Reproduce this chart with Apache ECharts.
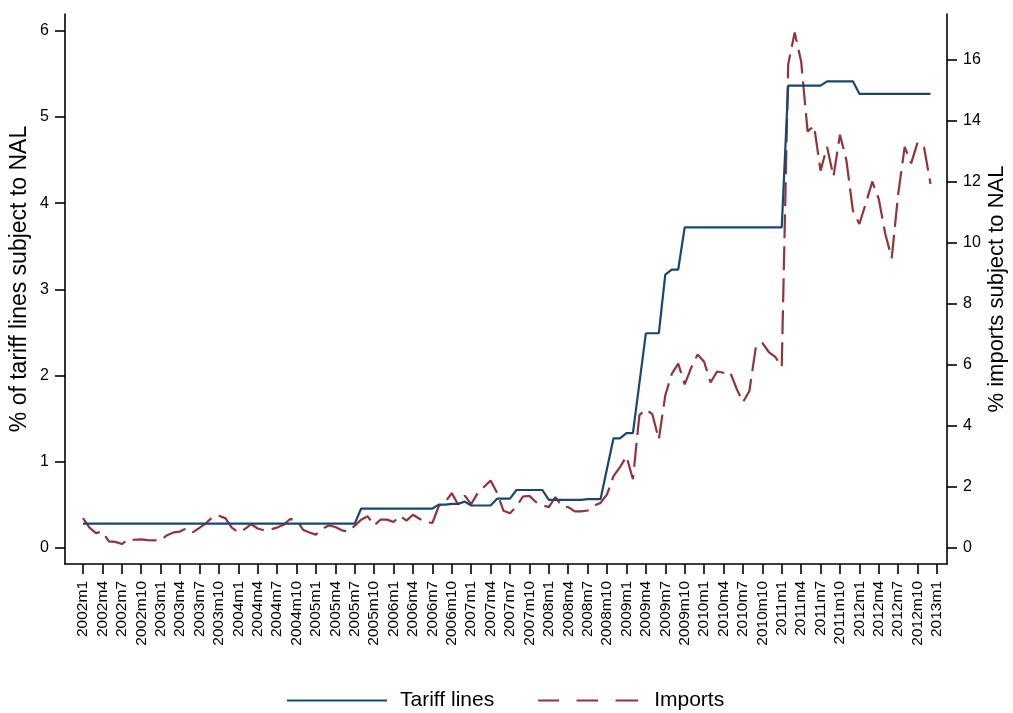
<!DOCTYPE html>
<html>
<head>
<meta charset="utf-8">
<script src="https://cdn.jsdelivr.net/npm/echarts@6/dist/echarts.min.js"></script>
<style>
html,body{margin:0;padding:0;background:#fff;}
#chart{width:1013px;height:713px;}
</style>
</head>
<body>
<div id="chart"></div>
<script>
// Monthly observations 2002m1 .. 2012m12 (132 months)
var tickLabels = ['2002m1','2002m4','2002m7','2002m10','2003m1','2003m4','2003m7','2003m10',
  '2004m1','2004m4','2004m7','2004m10','2005m1','2005m4','2005m7','2005m10',
  '2006m1','2006m4','2006m7','2006m10','2007m1','2007m4','2007m7','2007m10',
  '2008m1','2008m4','2008m7','2008m10','2009m1','2009m4','2009m7','2009m10',
  '2010m1','2010m4','2010m7','2010m10','2011m1','2011m4','2011m7','2011m10',
  '2012m1','2012m4','2012m7','2012m10','2013m1'];

var tariffLines = [
  0.28,0.28,0.28,0.28,0.28,0.28,0.28,0.28,0.28,0.28,0.28,0.28,
  0.28,0.28,0.28,0.28,0.28,0.28,0.28,0.28,0.28,0.28,0.28,0.28,
  0.28,0.28,0.28,0.28,0.28,0.28,0.28,0.28,0.28,0.28,0.28,0.28,
  0.28,0.28,0.28,0.28,0.28,0.28,0.28,0.455,0.455,0.455,0.455,0.455,
  0.455,0.455,0.455,0.455,0.455,0.455,0.455,0.50,0.50,0.51,0.51,0.535,
  0.49,0.49,0.49,0.49,0.57,0.57,0.57,0.67,0.67,0.67,0.67,0.67,
  0.555,0.555,0.555,0.555,0.555,0.555,0.565,0.565,0.565,0.92,1.27,1.27,
  1.33,1.33,1.91,2.49,2.49,2.49,3.17,3.23,3.23,3.72,3.72,3.72,
  3.72,3.72,3.72,3.72,3.72,3.72,3.72,3.72,3.72,3.72,3.72,3.72,
  3.72,5.365,5.365,5.365,5.365,5.365,5.365,5.415,5.415,5.415,5.415,5.415,
  5.27,5.27,5.27,5.27,5.27,5.27,5.27,5.27,5.27,5.27,5.27,5.27
];

var imports = [
  0.97,0.66,0.48,0.53,0.21,0.19,0.12,0.28,0.26,0.27,0.25,0.24,
  0.24,0.41,0.50,0.53,0.64,0.51,0.65,0.80,1.00,1.05,0.97,0.66,
  0.50,0.61,0.77,0.63,0.57,0.60,0.66,0.75,0.94,0.92,0.59,0.50,
  0.43,0.62,0.73,0.68,0.57,0.53,0.72,0.92,1.03,0.73,0.92,0.92,
  0.84,1.05,0.89,1.08,0.95,0.84,0.81,1.37,1.50,1.79,1.41,1.71,
  1.43,1.79,2.00,2.20,1.80,1.21,1.13,1.35,1.68,1.70,1.50,1.40,
  1.33,1.66,1.37,1.33,1.19,1.19,1.22,1.38,1.47,1.75,2.35,2.64,
  3.00,2.25,4.35,4.54,4.38,3.55,5.00,5.70,6.04,5.36,5.90,6.34,
  6.10,5.42,5.78,5.74,5.77,5.23,4.77,5.14,6.59,6.72,6.42,6.26,
  5.93,15.86,16.90,15.95,13.66,13.84,12.37,13.15,12.18,13.55,12.70,11.06,
  10.62,11.30,12.01,11.44,10.30,9.50,11.60,13.15,12.61,13.30,13.13,11.93
];

var leftTicks = [0,1,2,3,4,5,6];
var rightTicks = [0,2,4,6,8,10,12,14,16];

var tickPos = tickLabels.map(function(_, i){ return i * 3; });
function pairs(arr){ return arr.map(function(v, i){ return [i, v]; }); }

var FONT = "'Liberation Sans', Arial, sans-serif";
var BLUE = '#1a476f', RED = '#90353b';

var chart = echarts.init(document.getElementById('chart'), null, {renderer:'canvas'});
chart.setOption({
  backgroundColor: '#ffffff',
  animation: false,
  textStyle: {fontFamily: FONT, color: '#000'},
  grid: {left: 65, right: 66, top: 14, bottom: 149, containLabel: false, outerBoundsMode: 'none'},
  legend: {
    left: 282, top: 685,
    itemWidth: 100, itemHeight: 20, itemGap: 44,
    textStyle: {fontFamily: FONT, fontSize: 21, color: '#000', padding: [0,0,0,8]},
    data: [
      {name: 'Tariff lines', icon: 'path://M0,9 L100,9 L100,11 L0,11 Z', itemStyle: {color: BLUE}},
      {name: 'Imports', icon: 'path://M0,9 L21,9 L21,11 L0,11 Z M38.4,9 L60,9 L60,11 L38.4,11 Z M77.4,9 L100,9 L100,11 L77.4,11 Z',
       itemStyle: {color: RED}, textStyle: {fontFamily: FONT, fontSize: 21, color: '#000', padding: [0,0,0,11]}}
    ]
  },
  xAxis: {
    type: 'value',
    min: -2.782, max: 133.545,
    splitLine: {show: false},
    axisLine: {show: true, onZero: false, lineStyle: {color: '#000', width: 1.6}},
    axisTick: {show: true, length: 10, customValues: tickPos, lineStyle: {color: '#000', width: 1.6}},
    axisLabel: {
      customValues: tickPos, rotate: 90, margin: 17,
      fontFamily: FONT, fontSize: 15.5, color: '#000',
      formatter: function(v){ return tickLabels[Math.round(v / 3)]; }
    }
  },
  yAxis: [
    {
      type: 'value', position: 'left',
      min: -0.189, max: 6.197,
      name: '% of tariff lines subject to NAL', nameLocation: 'middle', nameGap: 34, nameMoveOverlap: false,
      nameTextStyle: {fontFamily: FONT, fontSize: 23, color: '#000', padding: [0,0,0,20]},
      splitLine: {show: false},
      axisLine: {show: true, onZero: false, lineStyle: {color: '#000', width: 1.6}},
      axisTick: {show: true, length: 10, customValues: leftTicks, lineStyle: {color: '#000', width: 1.6}},
      axisLabel: {customValues: leftTicks, margin: 16, fontFamily: FONT, fontSize: 16, color: '#000'}
    },
    {
      type: 'value', position: 'right',
      min: -0.535, max: 17.509,
      name: '% imports subject to NAL', nameLocation: 'middle', nameGap: 39, nameMoveOverlap: false,
      nameTextStyle: {fontFamily: FONT, fontSize: 22, color: '#000'},
      splitLine: {show: false},
      axisLine: {show: true, onZero: false, lineStyle: {color: '#000', width: 1.6}},
      axisTick: {show: true, length: 10, customValues: rightTicks, lineStyle: {color: '#000', width: 1.6}},
      axisLabel: {customValues: rightTicks, margin: 16, fontFamily: FONT, fontSize: 16, color: '#000'}
    }
  ],
  series: [
    {
      name: 'Tariff lines', type: 'line', yAxisIndex: 0,
      symbol: 'none', showSymbol: false,
      lineStyle: {color: BLUE, width: 2.2},
      itemStyle: {color: BLUE},
      data: pairs(tariffLines), z: 3
    },
    {
      name: 'Imports', type: 'line', yAxisIndex: 1,
      symbol: 'none', showSymbol: false,
      lineStyle: {color: RED, width: 2.2, type: [24, 8]},
      itemStyle: {color: RED},
      data: pairs(imports), z: 2
    }
  ]
});
</script>
</body>
</html>
